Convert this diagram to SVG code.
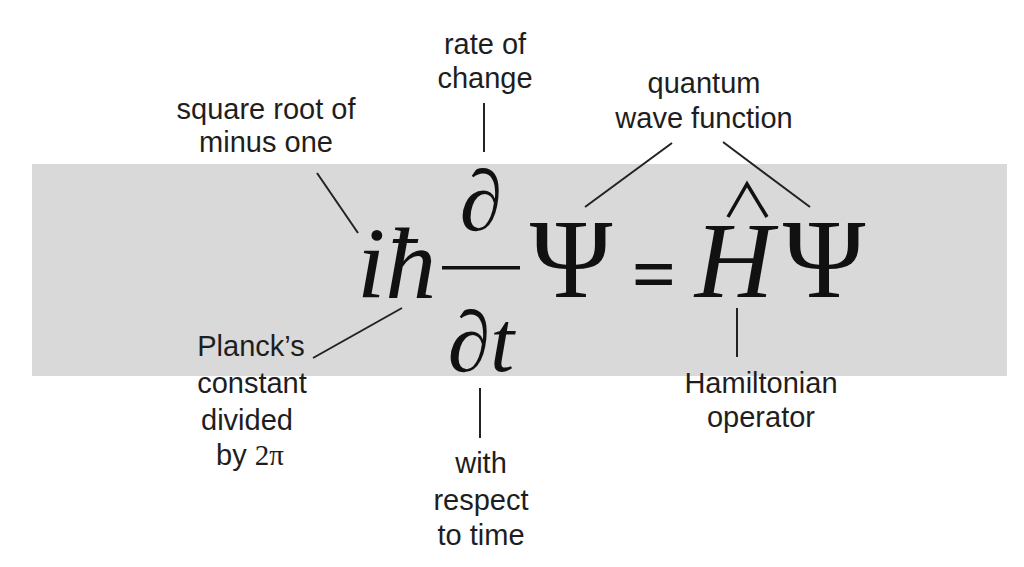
<svg xmlns="http://www.w3.org/2000/svg" width="1024" height="567" viewBox="0 0 1024 567">
<style>
.lbl{font-family:"Liberation Sans",Arial,sans-serif;font-size:29px;fill:#1e1e1e;text-anchor:middle}
.eq{font-family:"Liberation Serif","Times New Roman",serif;fill:#111}
.it{font-style:italic}
.ln{stroke:#222;stroke-width:2;fill:none}
</style>
<rect x="0" y="0" width="1024" height="567" fill="#ffffff"/>
<rect id="band" x="32" y="164" width="975" height="212" fill="#d9d9d9"/>
<g id="equation">
  <text class="eq it" x="357" y="298" font-size="102">iħ</text>
  <text class="eq it" x="481" y="230" font-size="86" text-anchor="middle">∂</text>
  <rect x="442" y="266" width="78" height="3.5" fill="#111"/>
  <text class="eq it" x="481" y="371" font-size="86" text-anchor="middle">∂t</text>
  <text class="eq" x="571" y="297" font-size="112" text-anchor="middle">Ψ</text>
  <text class="eq" x="654" y="300" font-size="78" font-weight="bold" text-anchor="middle">=</text>
  <text class="eq it" x="734" y="297" font-size="109" text-anchor="middle">H</text>
  <polyline points="728,217 747,184 767,217" stroke="#111" stroke-width="3.5" fill="none"/>
  <text class="eq" x="824" y="297" font-size="112" text-anchor="middle">Ψ</text>
</g>
<g id="connectors">
  <line class="ln" x1="484" y1="103" x2="484" y2="152"/>
  <line class="ln" x1="317" y1="173" x2="358" y2="233"/>
  <line class="ln" x1="313" y1="358" x2="402" y2="308"/>
  <line class="ln" x1="480" y1="388" x2="480" y2="438"/>
  <line class="ln" x1="672" y1="143" x2="585" y2="207"/>
  <line class="ln" x1="723" y1="142" x2="810" y2="207"/>
  <line class="ln" x1="737" y1="308" x2="737" y2="357"/>
</g>
<g id="label-rate">
  <text class="lbl" x="485" y="54">rate of</text>
  <text class="lbl" x="485" y="88">change</text>
</g>
<g id="label-sqrt">
  <text class="lbl" x="266" y="119">square root of</text>
  <text class="lbl" x="266" y="152">minus one</text>
</g>
<g id="label-quantum">
  <text class="lbl" x="704" y="93">quantum</text>
  <text class="lbl" x="704" y="128">wave function</text>
</g>
<g id="label-planck">
  <text class="lbl" x="251" y="356">Planck’s</text>
  <text class="lbl" x="252" y="393">constant</text>
  <text class="lbl" x="247" y="430">divided</text>
  <text class="lbl" x="250" y="465">by <tspan font-family="Liberation Serif, serif">2π</tspan></text>
</g>
<g id="label-time">
  <text class="lbl" x="481" y="473">with</text>
  <text class="lbl" x="481" y="510">respect</text>
  <text class="lbl" x="481" y="545">to time</text>
</g>
<g id="label-hamiltonian">
  <text class="lbl" x="761" y="393">Hamiltonian</text>
  <text class="lbl" x="761" y="427">operator</text>
</g>
</svg>
